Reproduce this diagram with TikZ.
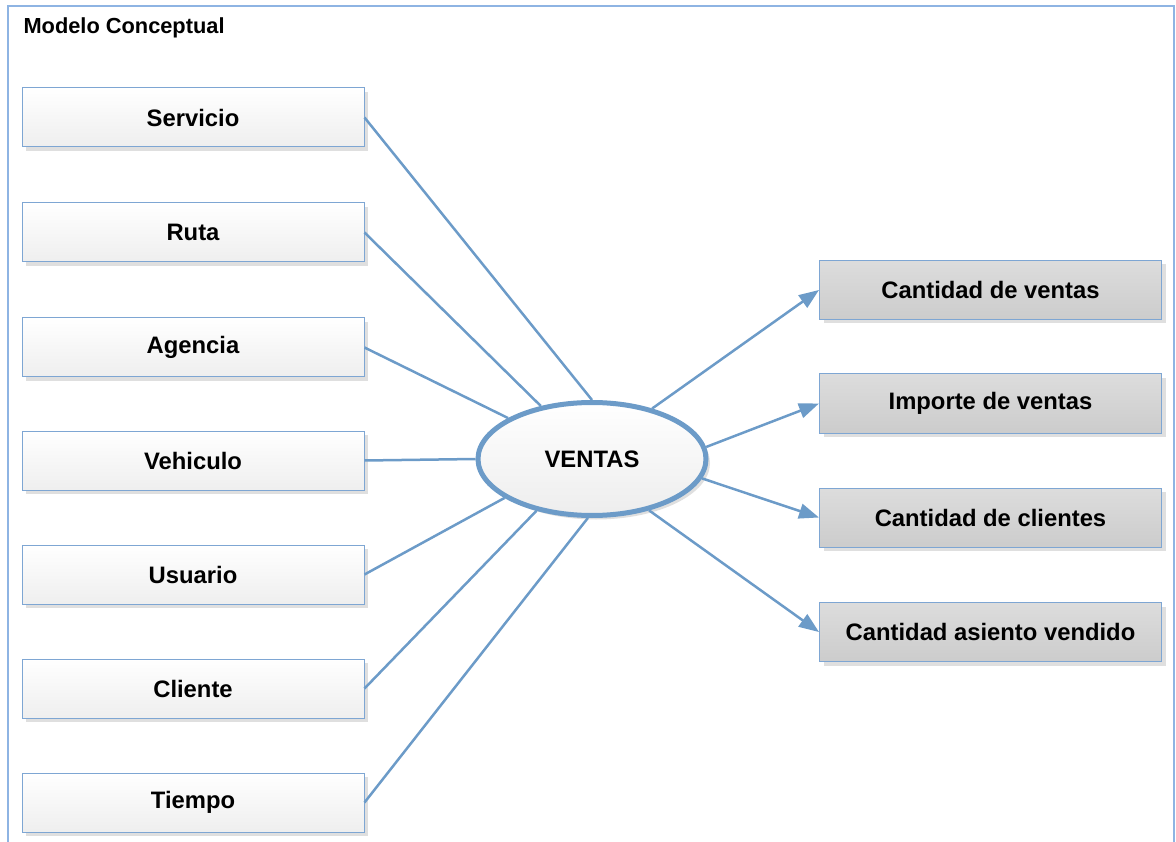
\documentclass[tikz,border=0pt]{standalone}
\usepackage{fontspec}
\setmainfont{Liberation Sans}
\usepackage{xcolor}
\usepackage{tikz}
\usetikzlibrary{shapes.geometric,arrows.meta,shadows}

\definecolor{linea}{HTML}{6C9BC8}
\definecolor{borde}{HTML}{7EA6D3}
\definecolor{marco}{HTML}{8EB4E3}

\begin{document}
\begin{tikzpicture}[x=1pt,y=-1pt,
	dimbox/.style={draw=borde,line width=1pt,top color=white,bottom color=gray!13,
		minimum width=342pt,minimum height=59pt,inner sep=0pt,
		drop shadow={shadow xshift=4pt,shadow yshift=-4pt,fill=gray!25,opacity=1},
		font=\fontsize{23.8}{28}\selectfont\bfseries},
	medbox/.style={dimbox,top color=gray!27,bottom color=gray!40},
	conn/.style={draw=linea,line width=2.5pt},
	flecha/.style={conn,-{Triangle[length=20pt,width=15pt]}}]
	\useasboundingbox (0,0) rectangle (1176,842);
	\draw[marco,line width=1.2pt] (8,842) -- (8,6) -- (1174,6) -- (1174,842);
	\node[anchor=base west,font=\fontsize{21.8}{26}\selectfont\bfseries] (titulo) at (20,34) {Modelo Conceptual};

	% dimensiones
	\foreach \name/\txt/\y in {servicio/Servicio/117.5, ruta/Ruta/232.5, agencia/Agencia/347.5,
		vehiculo/Vehiculo/460.5, usuario/Usuario/574.5, cliente/Cliente/688.5, tiempo/Tiempo/802.5} {
		\node[dimbox] (\name) at (193,\y) {\txt};
	}
	% medidas
	\foreach \name/\txt/\y in {cventas/Cantidad de ventas/290, iventas/Importe de ventas/403.5,
		cclientes/Cantidad de clientes/517.5, casiento/Cantidad asiento vendido/632} {
		\node[medbox] (\name) at (990.5,\y) {\txt};
	}

	\node[ellipse,draw=linea,line width=5pt,top color=white,bottom color=gray!14,
		minimum width=228pt,minimum height=113pt,
		drop shadow={shadow xshift=4pt,shadow yshift=-4pt,fill=gray!25,opacity=1},
		font=\fontsize{23.8}{28}\selectfont\bfseries] (ventas) at (592,459) {VENTAS};

	\foreach \s/\a in {servicio/90, ruta/134, agencia/154, vehiculo/180, usuario/204, cliente/223, tiempo/266} {
		\draw[conn] (\s.east) -- (ventas.\a);
	}
	\foreach \a/\t in {40/cventas, 6/iventas, 350/cclientes, 318/casiento} {
		\draw[flecha] (ventas.\a) -- (\t.west);
	}
\end{tikzpicture}
\end{document}
